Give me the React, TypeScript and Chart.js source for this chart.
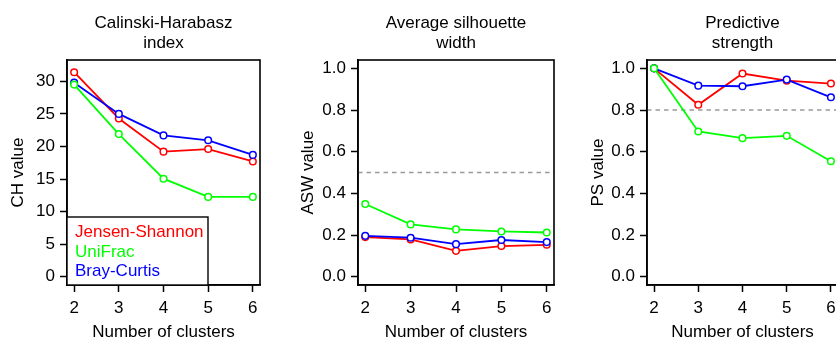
import React, { useEffect, useRef } from 'react';
import { Chart, registerables } from 'chart.js';

Chart.register(...registerables);

const FONT = '"Liberation Sans", Arial, Helvetica, sans-serif';

// ---- data ----
const CLUSTERS = [2, 3, 4, 5, 6];
const SERIES_NAMES = ['Jensen-Shannon', 'UniFrac', 'Bray-Curtis'];
const SERIES_COLORS = ['#FF0000', '#00FF00', '#0000FF'];

const CH_JS = [31.4, 24.3, 19.2, 19.6, 17.7];
const CH_UNIFRAC = [29.5, 21.9, 15.05, 12.25, 12.25];
const CH_BC = [29.8, 25.0, 21.7, 20.95, 18.7];

const ASW_JS = [0.19, 0.179, 0.124, 0.147, 0.153];
const ASW_UNIFRAC = [0.349, 0.251, 0.227, 0.217, 0.212];
const ASW_BC = [0.196, 0.187, 0.156, 0.176, 0.166];

const PS_JS = [1.0, 0.825, 0.975, 0.941, 0.927];
const PS_UNIFRAC = [1.0, 0.697, 0.665, 0.676, 0.554];
const PS_BC = [1.0, 0.917, 0.914, 0.946, 0.861];

const CH_TICKS = [0, 5, 10, 15, 20, 25, 30];
const UNIT_TICKS = [0, 0.2, 0.4, 0.6, 0.8, 1.0];
const ASW_THRESHOLD = 0.5;
const PS_THRESHOLD = 0.8;

const X_MIN = 1.84;
const X_MAX = 6.16;

type PanelCfg = {
  offset: number;
  areaLeft: number;
  areaRight: number;
  title: string[];
  yLabel: string;
  series: number[][];
  yTicks: number[];
  yMin: number;
  yMax: number;
  decimals: number;
  threshold: number | null;
  legend: boolean;
};

const PANELS: PanelCfg[] = [
  {
    offset: 0, areaLeft: 67, areaRight: 260,
    title: ['Calinski-Harabasz', 'index'], yLabel: 'CH value',
    series: [CH_JS, CH_UNIFRAC, CH_BC], yTicks: CH_TICKS,
    yMin: -1.28, yMax: 33.28, decimals: 0, threshold: null, legend: true,
  },
  {
    offset: 290, areaLeft: 68, areaRight: 264,
    title: ['Average silhouette', 'width'], yLabel: 'ASW value',
    series: [ASW_JS, ASW_UNIFRAC, ASW_BC], yTicks: UNIT_TICKS,
    yMin: -0.04, yMax: 1.04, decimals: 1, threshold: ASW_THRESHOLD, legend: false,
  },
  {
    offset: 580, areaLeft: 67, areaRight: 258,
    title: ['Predictive', 'strength'], yLabel: 'PS value',
    series: [PS_JS, PS_UNIFRAC, PS_BC], yTicks: UNIT_TICKS,
    yMin: -0.04, yMax: 1.04, decimals: 1, threshold: PS_THRESHOLD, legend: false,
  },
];

const CANVAS_W = 290;
const CANVAS_H = 339;
const AREA_TOP = 60;
const AREA_BOTTOM = 285;

const decorPlugin = {
  id: 'decor',
  afterDatasetsDraw(chart: any, _args: any, opts: any) {
    const { ctx, chartArea: a } = chart;
    ctx.save();
    ctx.strokeStyle = '#000';
    ctx.lineWidth = 1.6;
    ctx.strokeRect(a.left, a.top, a.right - a.left, a.bottom - a.top);

    ctx.fillStyle = '#000';
    ctx.font = `17px ${FONT}`;
    ctx.textAlign = 'center';
    ctx.textBaseline = 'alphabetic';
    const cx = (a.left + a.right) / 2;
    (opts.title as string[]).forEach((t, i) => ctx.fillText(t, cx, 27.5 + i * 20));

    if (opts.legend) {
      const L = a.left;
      const B = a.bottom;
      const w = 141;
      const h = 68;
      ctx.fillStyle = '#fff';
      ctx.fillRect(L, B - h, w, h);
      ctx.lineWidth = 1.4;
      ctx.strokeRect(L, B - h, w, h);
      ctx.textAlign = 'left';
      SERIES_NAMES.forEach((n, i) => {
        ctx.fillStyle = SERIES_COLORS[i];
        ctx.fillText(n, L + 8, B - 48 + i * 19.5);
      });
    }
    ctx.restore();
  },
};

function Panel({ cfg }: { cfg: PanelCfg }) {
  const ref = useRef<HTMLCanvasElement>(null);
  useEffect(() => {
    const order = [2, 0, 1]; // JS bottom, BC middle, UniFrac top
    const datasets: any[] = cfg.series.map((vals, si) => ({
      label: SERIES_NAMES[si],
      data: CLUSTERS.map((c, i) => ({ x: c, y: vals[i] })),
      borderColor: SERIES_COLORS[si],
      backgroundColor: SERIES_COLORS[si],
      borderWidth: 1.8,
      pointRadius: 3.3,
      pointBorderWidth: 1.5,
      pointBackgroundColor: '#fff',
      pointBorderColor: SERIES_COLORS[si],
      pointStyle: 'circle',
      tension: 0,
      order: order[si],
    }));
    if (cfg.threshold !== null) {
      datasets.push({
        label: 'threshold',
        data: [
          { x: X_MIN, y: cfg.threshold },
          { x: X_MAX, y: cfg.threshold },
        ],
        borderColor: '#999999',
        borderWidth: 1.5,
        borderDash: [4.5, 4],
        pointRadius: 0,
        order: 10,
      });
    }
    const chart = new Chart(ref.current as HTMLCanvasElement, {
      type: 'line',
      data: { datasets },
      options: {
        animation: false,
        responsive: false,
        devicePixelRatio: 1,
        events: [],
        layout: {
          padding: { left: 0, top: AREA_TOP, right: CANVAS_W - cfg.areaRight, bottom: 0 },
        },
        plugins: {
          legend: { display: false },
          tooltip: { enabled: false },
          title: { display: false },
          decor: { title: cfg.title, legend: cfg.legend },
        } as any,
        scales: {
          x: {
            type: 'linear',
            min: X_MIN,
            max: X_MAX,
            afterBuildTicks: (s: any) => {
              s.ticks = CLUSTERS.map((v) => ({ value: v }));
            },
            afterFit: (s: any) => {
              s.height = CANVAS_H - AREA_BOTTOM;
            },
            ticks: {
              autoSkip: false,
              maxRotation: 0,
              padding: 6,
              color: '#000',
              font: { family: FONT, size: 17 },
              callback: (v: any) => String(v),
            },
            grid: {
              display: true,
              drawOnChartArea: false,
              drawTicks: true,
              tickLength: 7,
              tickColor: '#000',
              tickWidth: 1.5,
            },
            border: { display: true, color: '#000', width: 1.6 },
            title: {
              display: true,
              text: 'Number of clusters',
              color: '#000',
              font: { family: FONT, size: 17, lineHeight: 14 / 17 },
              padding: { top: 0, bottom: 0 },
            },
          },
          y: {
            type: 'linear',
            min: cfg.yMin,
            max: cfg.yMax,
            afterBuildTicks: (s: any) => {
              s.ticks = cfg.yTicks.map((v) => ({ value: v }));
            },
            afterFit: (s: any) => {
              s.width = cfg.areaLeft;
            },
            ticks: {
              autoSkip: false,
              padding: 5,
              color: '#000',
              font: { family: FONT, size: 17 },
              callback: (v: any) => Number(v).toFixed(cfg.decimals),
            },
            grid: {
              display: true,
              drawOnChartArea: false,
              drawTicks: true,
              tickLength: 7,
              tickColor: '#000',
              tickWidth: 1.5,
            },
            border: { display: true, color: '#000', width: 1.6 },
            title: {
              display: true,
              text: cfg.yLabel,
              color: '#000',
              font: { family: FONT, size: 17, lineHeight: 1.2 },
              padding: { top: 8, bottom: 0 },
            },
          },
        },
      },
      plugins: [decorPlugin as any],
    });
    return () => chart.destroy();
  }, [cfg]);
  return (
    <canvas
      ref={ref}
      width={CANVAS_W}
      height={CANVAS_H}
      style={{ position: 'absolute', left: cfg.offset, top: 0, width: CANVAS_W, height: CANVAS_H }}
    />
  );
}

export default function App() {
  return (
    <div
      style={{
        position: 'absolute',
        left: 0,
        top: 0,
        width: 836,
        height: 339,
        overflow: 'hidden',
        background: '#fff',
      }}
    >
      {PANELS.map((p, i) => (
        <Panel key={i} cfg={p} />
      ))}
    </div>
  );
}
